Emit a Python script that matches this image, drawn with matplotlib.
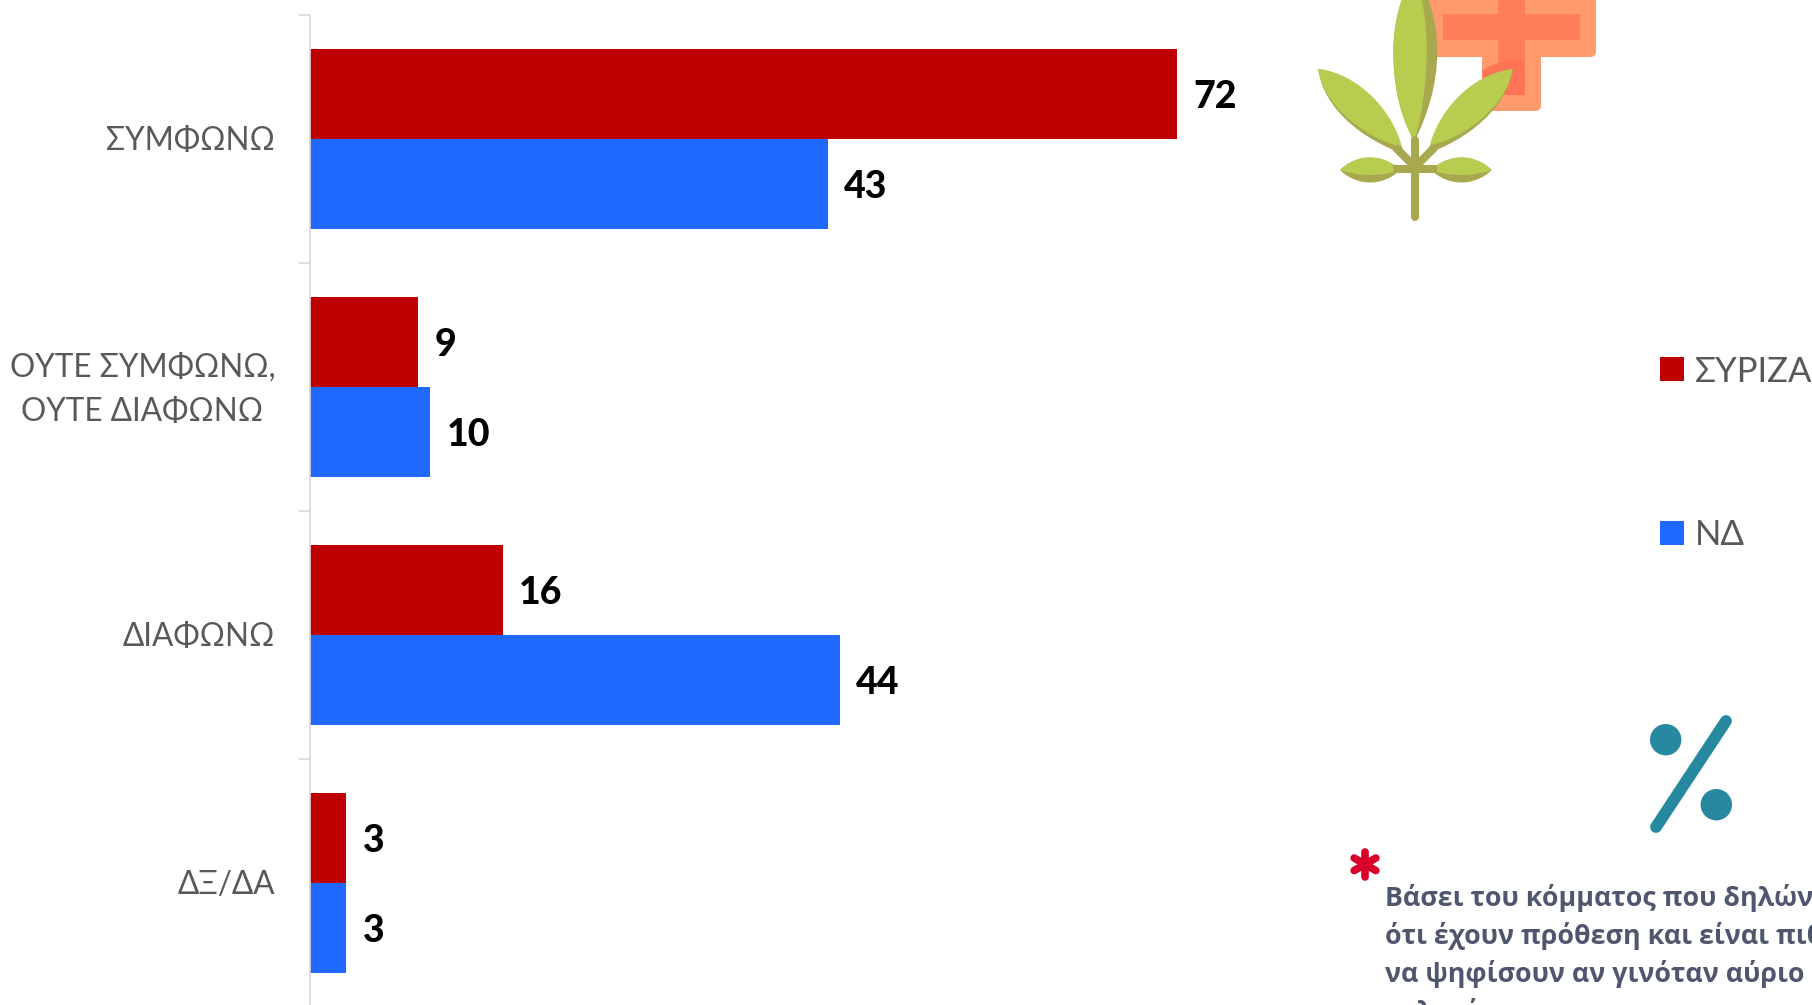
#! /usr/bin/env python
# Grouped horizontal bars, with the decorative icons drawn on a pixel overlay
import matplotlib
matplotlib.use('Agg')
import numpy as np
import matplotlib.pyplot as plt
from matplotlib.path import Path
from matplotlib.patches import PathPatch, FancyBboxPatch, Circle
from matplotlib.transforms import ScaledTranslation

categories = ['ΣΥΜΦΩΝΩ', 'ΟΥΤΕ ΣΥΜΦΩΝΩ,\nΟΥΤΕ ΔΙΑΦΩΝΩ', 'ΔΙΑΦΩΝΩ', 'ΔΞ/ΔΑ']
syriza = [72, 9, 16, 3]
nd = [43, 10, 44, 3]
series_names = ['ΣΥΡΙΖΑ', 'ΝΔ']
note_lines = ['Βάσει του κόμματος που δηλώνουν',
              'ότι έχουν πρόθεση και είναι πιθανό',
              'να ψηφίσουν αν γινόταν αύριο',
              'εκλογές']

RED = '#C00000'
BLUE = '#1F69FF'
GREY = '#595959'
W, H = 1812, 1005
BAR_H = 0.364

fig = plt.figure(figsize=(W / 100, H / 100), dpi=100)
ax = fig.add_axes([310 / W, (H - 1007) / H, 1000 / W, 992 / H])

# Bars
pos = np.arange(len(categories))
b1 = ax.barh(pos - BAR_H / 2, syriza, BAR_H, color=RED, label=series_names[0])
b2 = ax.barh(pos + BAR_H / 2, nd, BAR_H, color=BLUE, label=series_names[1])
for bars in (b1, b2):
    for t in ax.bar_label(bars, padding=12, fontsize=27, fontweight='black', color='black',
                          family=['Lato', 'Open Sans']):
        t.set_va('center_baseline')
        t.set_transform(t.get_transform() + ScaledTranslation(0, -1 / 100, fig.dpi_scale_trans))

ax.set_xlim(0, 83.06)
ax.set_ylim(3.5, -0.5)
ax.xaxis.set_visible(False)
for s in ('top', 'right', 'bottom'):
    ax.spines[s].set_visible(False)
ax.spines['left'].set_color('#D9D9D9')
ax.spines['left'].set_linewidth(1.2)
ax.set_yticks(pos)
ax.set_yticklabels(categories, fontsize=22.7, color=GREY, family=['Lato', 'Open Sans'],
                   multialignment='center', linespacing=1.6)
ax.set_yticks(np.arange(-0.5, 3.6), minor=True)
ax.tick_params(axis='y', which='major', length=0, pad=25)
ax.tick_params(axis='y', which='minor', length=8, width=1.2, color='#D9D9D9')
for lab, up in zip(ax.get_yticklabels(), [1, 7, 1, 1]):
    lab.set_transform(lab.get_transform() + ScaledTranslation(0, up / 100, fig.dpi_scale_trans))

ax.legend(loc='upper left', bbox_to_anchor=(1660 / W, 1 - 355.5 / H),
          bbox_transform=fig.transFigure, frameon=False, prop={'family': ['Lato', 'Open Sans'], 'size': 25},
          labelcolor=GREY, handlelength=0.69, handleheight=0.69, handletextpad=0.3,
          labelspacing=3.8, borderpad=0, borderaxespad=0)

# Overlay in image pixels for the icons and the note
ov = fig.add_axes([0, 0, 1, 1], zorder=5)
ov.set_xlim(0, W)
ov.set_ylim(H, 0)
ov.axis('off')
ov.patch.set_alpha(0)


def box(x0, y0, x1, y1, color, r=0.0):
    style = 'round,pad=0,rounding_size=%g' % r if r else 'square,pad=0'
    ov.add_patch(FancyBboxPatch((x0, y0), x1 - x0, y1 - y0, boxstyle=style, fc=color, ec='none'))


def blob(points, color):
    # points are in the plant zoom crop: start, then triples of a cubic curve
    pts = [(1280 + x / 3, y / 3) for x, y in points]
    codes = [Path.MOVETO] + [Path.CURVE4] * (len(pts) - 1)
    ov.add_patch(PathPatch(Path(pts, codes), fc=color, ec='none'))


# Cross
box(1420, -20, 1596, 57, '#FF9A6C', 6)
box(1482, 0, 1541, 111, '#FF9A6C', 6)
box(1443, 14, 1580, 40, '#FF7E5A')
box(1498, 0, 1525, 95, '#FF7E5A')
# Shadows the leaves throw on the cross
blob([(607, 212), (640, 190), (690, 175), (722, 178), (735, 190), (735, 240), (735, 285),
      (720, 285), (700, 285), (680, 285), (640, 285), (607, 285), (607, 212)], '#FF7357')

# Plant
LEAF = '#B8CC50'
DARK = '#A8A84E'
ov.plot([1415, 1415], [140, 217], color=DARK, lw=5.8, solid_capstyle='round')
ov.plot([1397, 1433], [169, 169], color=DARK, lw=5.8)
ov.plot([1398, 1415, 1432], [150, 167, 150], color=DARK, lw=5.8)
blob([(403, 425), (350, 330), (340, 230), (340, 150), (340, 60), (370, -30), (400, -80),
      (440, -40), (472, 60), (472, 150), (472, 260), (440, 350), (403, 425)], DARK)
blob([(403, 425), (350, 330), (340, 230), (340, 150), (340, 60), (370, -30), (400, -80),
      (425, -30), (440, 60), (440, 150), (440, 250), (425, 350), (403, 425)], LEAF)
blob([(115, 207), (125, 300), (210, 400), (360, 458), (375, 450), (365, 440), (360, 430),
      (320, 310), (220, 220), (115, 207)], DARK)
blob([(115, 207), (125, 300), (235, 410), (365, 440), (345, 350), (250, 225), (115, 207)], LEAF)
blob([(698, 207), (685, 300), (600, 400), (450, 458), (435, 450), (450, 440), (455, 430),
      (490, 310), (590, 220), (698, 207)], DARK)
blob([(698, 207), (685, 300), (575, 410), (450, 435), (470, 350), (560, 225), (698, 207)], LEAF)
blob([(180, 510), (230, 560), (310, 560), (360, 510), (310, 460), (230, 460), (180, 510)], DARK)
blob([(180, 510), (240, 530), (310, 530), (360, 510), (310, 460), (230, 460), (180, 510)], LEAF)
blob([(635, 510), (585, 560), (505, 560), (453, 510), (505, 460), (585, 460), (635, 510)], DARK)
blob([(635, 510), (575, 530), (505, 530), (453, 510), (505, 460), (585, 460), (635, 510)], LEAF)

# Percent icon
TEAL = '#2689A0'
ov.add_patch(Circle((1665.7, 739.7), 15.7, fc=TEAL, ec='none'))
ov.add_patch(Circle((1716.3, 804.7), 15.7, fc=TEAL, ec='none'))
ov.plot([1726, 1656], [721, 827], color=TEAL, lw=8.5, solid_capstyle='round')

# Asterisk of the note
for ang in np.deg2rad([90, 30, 150]):
    dx, dy = 12.5 * np.cos(ang), 12.5 * np.sin(ang)
    ov.plot([1365 - dx, 1365 + dx], [864.3 - dy, 864.3 + dy], color='#D9002B', lw=5.5,
            solid_capstyle='round')

for i, line in enumerate(note_lines):
    ov.text(1385, 906 + 38 * i, line, fontsize=19.3, fontweight='bold', color='#50566E',
            family='Open Sans', va='baseline', ha='left')

fig.savefig('out.png', dpi=100)
